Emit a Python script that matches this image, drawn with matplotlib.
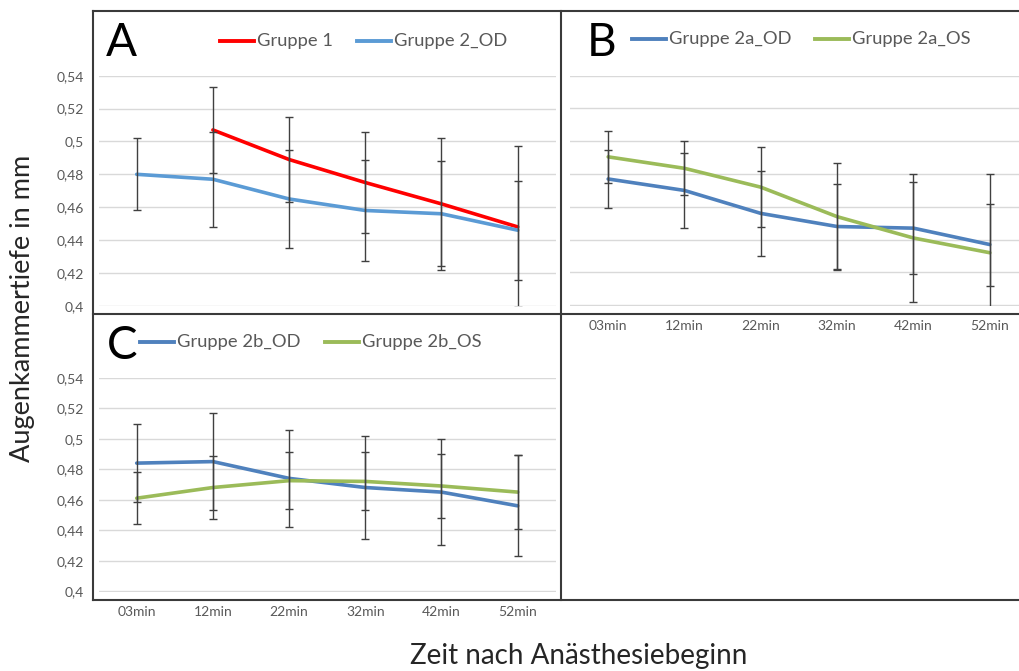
"""Augenkammertiefe nach Anaesthesiebeginn, drei Panels (A, B, C)."""

import numpy as np
import matplotlib.pyplot as plt
from matplotlib.lines import Line2D

categories = ["03min", "12min", "22min", "32min", "42min", "52min"]
ytick_values = [0.40, 0.42, 0.44, 0.46, 0.48, 0.50, 0.52, 0.54]
ytick_labels = ["0,4", "0,42", "0,44", "0,46", "0,48", "0,5", "0,52", "0,54"]

# Panel A
g1_mean = [np.nan, 0.507, 0.489, 0.475, 0.462, 0.448]
g1_err = [np.nan, 0.026, 0.026, 0.031, 0.040, 0.049]
g2_od_mean = [0.480, 0.477, 0.465, 0.458, 0.456, 0.446]
g2_od_err = [0.022, 0.029, 0.030, 0.031, 0.032, 0.030]

# Panel B
g2a_od_mean = [0.477, 0.470, 0.456, 0.448, 0.447, 0.437]
g2a_od_err = [0.0175, 0.023, 0.026, 0.026, 0.028, 0.025]
g2a_os_mean = [0.4905, 0.4835, 0.472, 0.454, 0.441, 0.432]
g2a_os_err = [0.016, 0.0165, 0.0245, 0.0325, 0.039, 0.048]

# Panel C
g2b_od_mean = [0.484, 0.485, 0.474, 0.468, 0.465, 0.456]
g2b_od_err = [0.0255, 0.032, 0.032, 0.034, 0.035, 0.033]
g2b_os_mean = [0.461, 0.468, 0.4725, 0.472, 0.469, 0.465]
g2b_os_err = [0.017, 0.0205, 0.0185, 0.019, 0.021, 0.0245]

RED = "#FF0000"
LIGHT_BLUE = "#5B9BD5"
BLUE = "#4F81BD"
GREEN = "#9BBB59"
GRAY_TEXT = "#595959"

W, H = 1020, 671

plt.rcParams["font.family"] = ["Lato", "DejaVu Sans"]
fig = plt.figure(figsize=(W / 100, H / 100), dpi=100)


def fx(x):
    return x / W


def fy(y):
    return 1 - y / H


def make_axes(left, right, top, bottom):
    return fig.add_axes([fx(left), fy(bottom), (right - left) / W, (bottom - top) / H])


def style_axes(ax, show_y, show_x):
    ax.set_xlim(-0.5, len(categories) - 0.5)
    ax.set_ylim(0.3997, 0.54)
    ax.set_yticks(ytick_values)
    ax.set_yticklabels(ytick_labels if show_y else [])
    ax.set_xticks(range(len(categories)))
    ax.set_xticklabels(categories if show_x else [])
    ax.yaxis.grid(True, color="#D9D9D9", lw=1)
    ax.set_axisbelow(True)
    for sp in ax.spines.values():
        sp.set_visible(False)
    ax.tick_params(axis="y", length=0, colors=GRAY_TEXT, labelsize=10, pad=10.5)
    ax.tick_params(axis="x", length=0, colors=GRAY_TEXT, labelsize=10, pad=10)


def draw_series(ax, mean, err, color):
    x = np.arange(len(categories))
    ax.plot(x, mean, color=color, lw=2.6, zorder=2, solid_capstyle="round")
    ax.errorbar(x, mean, yerr=err, fmt="none", ecolor="#404040", elinewidth=1,
                capsize=3, capthick=1, zorder=3)


def legend_entry(x0, y, color, label):
    fig.add_artist(Line2D([fx(x0), fx(x0 + 34)], [fy(y), fy(y)], color=color, lw=2.8,
                          transform=fig.transFigure))
    fig.text(fx(x0 + 37), fy(y), label, ha="left", va="center", fontsize=13.2, color=GRAY_TEXT)


ax_a = make_axes(98.6, 555.8, 75.7, 306.3)
ax_b = make_axes(570, 1028, 75.7, 305.7)
ax_c = make_axes(98.6, 555.8, 377.7, 591.7)

style_axes(ax_a, show_y=True, show_x=False)
style_axes(ax_b, show_y=False, show_x=True)
style_axes(ax_c, show_y=True, show_x=True)

draw_series(ax_a, g1_mean, g1_err, RED)
draw_series(ax_a, g2_od_mean, g2_od_err, LIGHT_BLUE)
draw_series(ax_b, g2a_od_mean, g2a_od_err, BLUE)
draw_series(ax_b, g2a_os_mean, g2a_os_err, GREEN)
draw_series(ax_c, g2b_od_mean, g2b_od_err, BLUE)
draw_series(ax_c, g2b_os_mean, g2b_os_err, GREEN)

# legends
legend_entry(220, 41, RED, "Gruppe 1")
legend_entry(357, 41, LIGHT_BLUE, "Gruppe 2_OD")
legend_entry(632, 39, BLUE, "Gruppe 2a_OD")
legend_entry(815, 39, GREEN, "Gruppe 2a_OS")
legend_entry(140, 342, BLUE, "Gruppe 2b_OD")
legend_entry(325, 342, GREEN, "Gruppe 2b_OS")

# panel letters
fig.text(fx(106), fy(43), "A", fontsize=33, ha="left", va="center")
fig.text(fx(587), fy(43), "B", fontsize=33, ha="left", va="center")
fig.text(fx(107), fy(346), "C", fontsize=33, ha="left", va="center")

# frame grid
frame_kw = dict(color="#3A3A3A", lw=1.5, transform=fig.transFigure)
for y in (11, 313.5, 600):
    fig.add_artist(Line2D([fx(93), fx(1020)], [fy(y), fy(y)], **frame_kw))
for x in (93, 561):
    fig.add_artist(Line2D([fx(x), fx(x)], [fy(11), fy(600)], **frame_kw))

fig.text(fx(23), fy(308), "Augenkammertiefe in mm", rotation=90, fontsize=19.5,
         ha="center", va="center", color="#262626")
fig.text(fx(579), fy(656), "Zeit nach Anästhesiebeginn", fontsize=20,
         ha="center", va="center", color="#262626")

fig.savefig("out.png", dpi=100)
